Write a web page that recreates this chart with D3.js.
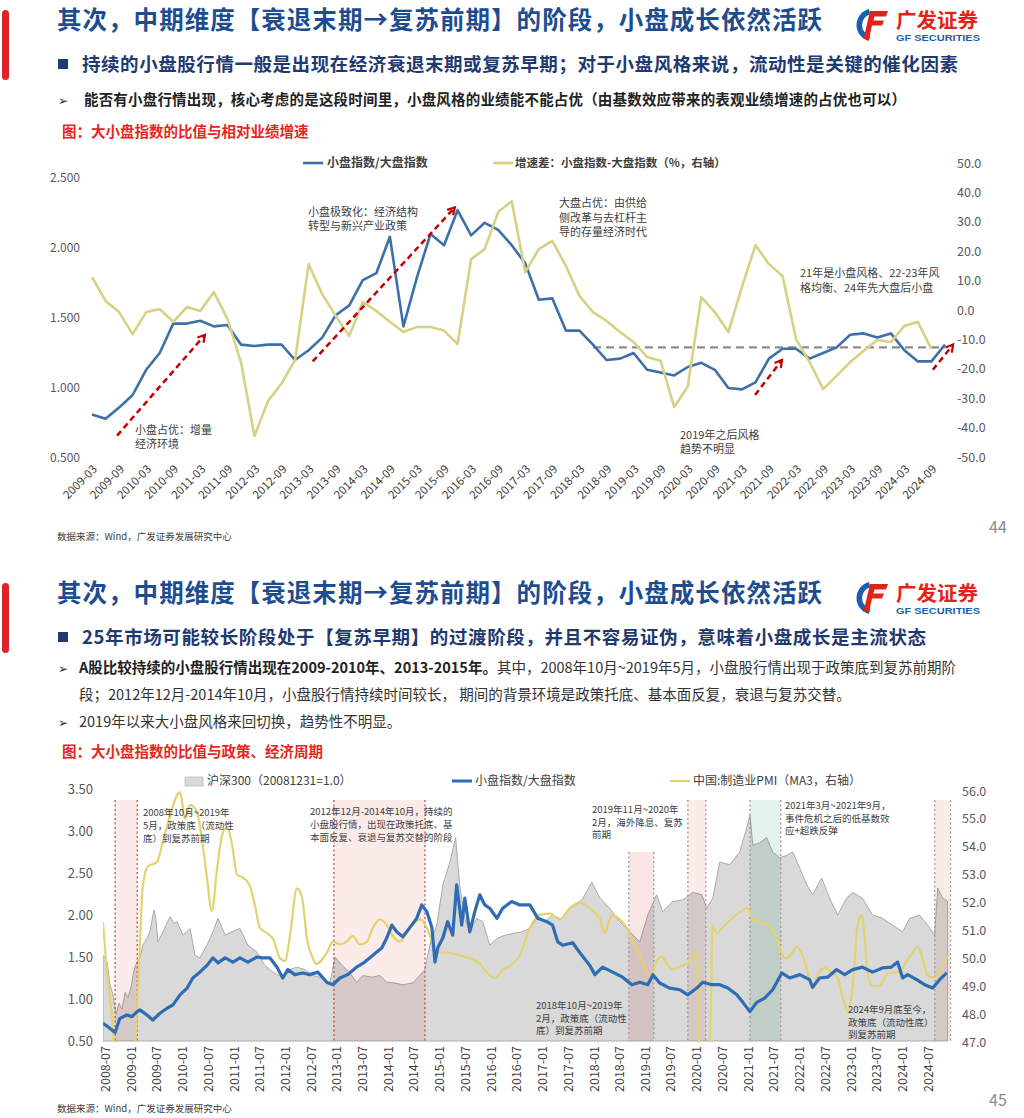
<!DOCTYPE html>
<html>
<head>
<meta charset="utf-8">
<title>大小盘指数</title>
<script src="https://cdn.jsdelivr.net/npm/d3@7/dist/d3.min.js"></script>
<style>
  body { margin: 0; background: #fff; }
  #chart svg { display: block; }
</style>
</head>
<body>
<div id="chart"></div>
<script>
// ---- slide 44: quarterly ratio and growth spread ----
var quarters = ["2009-03","2009-06","2009-09","2009-12","2010-03","2010-06","2010-09","2010-12",
  "2011-03","2011-06","2011-09","2011-12","2012-03","2012-06","2012-09","2012-12",
  "2013-03","2013-06","2013-09","2013-12","2014-03","2014-06","2014-09","2014-12",
  "2015-03","2015-06","2015-09","2015-12","2016-03","2016-06","2016-09","2016-12",
  "2017-03","2017-06","2017-09","2017-12","2018-03","2018-06","2018-09","2018-12",
  "2019-03","2019-06","2019-09","2019-12","2020-03","2020-06","2020-09","2020-12",
  "2021-03","2021-06","2021-09","2021-12","2022-03","2022-06","2022-09","2022-12",
  "2023-03","2023-06","2023-09","2023-12","2024-03","2024-06","2024-09","2024-12"];

var ratioQ = [0.81,0.78,0.86,0.95,1.13,1.25,1.46,1.46,1.48,1.44,
  1.45,1.31,1.30,1.31,1.31,1.20,1.27,1.36,1.52,1.59,
  1.77,1.82,2.08,1.44,1.79,2.10,2.02,2.27,2.09,2.18,
  2.13,2.02,1.89,1.63,1.64,1.41,1.41,1.31,1.20,1.21,
  1.25,1.13,1.11,1.09,1.15,1.18,1.13,1.00,0.99,1.04,
  1.21,1.28,1.28,1.21,1.25,1.29,1.38,1.39,1.36,1.39,
  1.27,1.19,1.19,1.31];

var spreadQ = [11.2,3.1,-0.7,-8.2,-0.7,0.3,-4.0,1.0,-0.3,6.1,
  -3.0,-17.7,-42.9,-31.0,-25.0,-17.0,15.6,5.4,-2.0,-8.8,
  2.7,-0.3,-4.0,-7.5,-5.8,-5.8,-7.0,-11.6,17.3,20.7,
  33.3,37.0,12.9,20.7,23.5,15.0,4.8,-0.7,-3.7,-7.5,
  -10.9,-16.0,-17.3,-33.0,-26.0,4.4,-0.7,-7.5,7.8,22.0,
  15.6,11.6,-9.9,-17.7,-26.9,-22.4,-17.7,-13.9,-10.2,-10.9,
  -5.4,-4.1,-13.3];

var refLevel = 1.29;
var refFrom = "2018-06";
// [quarter index from, ratio from, quarter index to, ratio to]
var topArrows = [[1.85, 0.66, 8.35, 1.38], [16.3, 1.19, 26.8, 2.29], [48.97, 0.95, 50.96, 1.20], [62.1, 1.13, 63.6, 1.31]];

// ---- slide 45: long series ----
var hsDates = ["2008-06-17","2008-07-15","2008-08-06","2008-08-27","2008-09-18","2008-10-09","2008-10-30","2008-11-21","2008-12-12",
  "2009-01-03","2009-01-24","2009-02-15","2009-03-06","2009-03-27","2009-04-25","2009-05-16","2009-06-14","2009-06-28","2009-07-12",
  "2009-08-17","2009-09-08","2009-10-06","2009-11-04","2009-11-25","2010-01-07","2010-02-26","2010-04-01","2010-05-06","2010-06-25",
  "2010-08-07","2010-09-12","2010-11-01","2010-12-20","2011-02-15","2011-04-12","2011-06-15","2011-08-10","2011-10-07","2011-12-10",
  "2012-02-05","2012-03-25","2012-05-21","2012-07-17","2012-09-20","2012-11-15","2012-12-21","2013-02-09","2013-04-05","2013-05-24",
  "2013-07-06","2013-09-09","2013-11-05","2013-12-24","2014-02-20","2014-04-16","2014-06-26","2014-08-15","2014-09-20","2014-10-25",
  "2014-12-14","2015-01-26","2015-03-15","2015-04-27","2015-05-25","2015-07-01","2015-08-05","2015-09-24","2015-11-06","2015-12-25",
  "2016-02-14","2016-04-10","2016-06-06","2016-08-09","2016-10-05","2016-11-24","2017-01-19","2017-03-15","2017-05-18","2017-07-15",
  "2017-10-09","2017-12-19","2018-02-15","2018-04-25","2018-07-05","2018-09-15","2018-11-25","2019-01-21","2019-03-24","2019-05-06",
  "2019-07-16","2019-09-26","2019-12-06","2020-02-09","2020-03-14","2020-04-26","2020-06-15","2020-08-25","2020-11-04","2020-12-24",
  "2021-01-15","2021-02-05","2021-03-25","2021-05-14","2021-06-26","2021-08-14","2021-10-03","2021-11-15","2022-01-04","2022-02-23",
  "2022-04-05","2022-06-08","2022-08-04","2022-09-30","2022-12-03","2023-01-15","2023-03-25","2023-06-05","2023-08-15","2023-10-25",
  "2024-01-05","2024-02-24","2024-05-04","2024-06-30","2024-08-19","2024-09-10","2024-10-15","2024-11-20"];
var hsVals = [1.52,1.45,1.17,1.05,0.82,0.95,0.88,1.08,1.02,
  1.15,1.35,1.45,1.48,1.64,1.72,1.80,2.06,1.95,1.68,
  1.80,1.88,1.98,1.90,1.92,1.76,1.84,1.52,1.49,1.64,
  1.80,1.96,1.76,1.80,1.84,1.64,1.56,1.40,1.32,1.26,
  1.35,1.38,1.35,1.28,1.25,1.19,1.50,1.40,1.31,1.20,
  1.28,1.26,1.28,1.20,1.19,1.17,1.19,1.28,1.35,1.64,
  1.88,2.36,2.62,2.92,2.36,1.96,1.80,1.96,1.92,1.64,
  1.72,1.76,1.78,1.80,1.84,1.96,1.92,2.00,1.95,2.08,
  2.18,2.39,2.20,2.08,1.92,1.80,1.68,2.00,2.24,2.04,
  2.16,2.18,2.27,2.24,2.08,2.20,2.63,2.60,2.75,3.04,
  3.19,2.83,2.86,2.92,2.75,2.68,2.71,2.75,2.56,2.36,
  2.24,2.44,2.20,2.00,2.20,2.27,2.20,2.00,1.96,1.88,
  1.80,1.96,2.00,1.88,1.76,2.32,2.20,2.16];

var ratioDates = ["2008-06-17","2008-08-06","2008-09-11","2008-10-15","2008-12-04","2009-01-09","2009-02-15","2009-03-06","2009-04-25",
  "2009-06-06","2009-07-26","2009-09-15","2009-10-27","2009-12-16","2010-02-04","2010-03-17","2010-05-06","2010-06-25","2010-08-07",
  "2010-09-12","2010-11-01","2010-12-27","2011-02-15","2011-04-12","2011-06-15","2011-07-27","2011-09-15","2011-11-04","2011-12-16",
  "2012-01-21","2012-03-10","2012-05-06","2012-06-25","2012-08-21","2012-10-24","2012-12-06","2013-01-25","2013-03-21","2013-05-24",
  "2013-07-20","2013-09-16","2013-11-19","2013-12-24","2014-01-29","2014-03-04","2014-04-16","2014-06-05","2014-07-24","2014-08-29",
  "2014-10-04","2014-11-09","2014-12-01","2014-12-21","2015-01-26","2015-03-01","2015-04-06","2015-05-04","2015-06-09","2015-07-01",
  "2015-08-05","2015-09-10","2015-10-15","2015-11-20","2015-12-25","2016-02-14","2016-03-26","2016-05-29","2016-07-25","2016-10-05",
  "2016-12-01","2017-02-03","2017-03-15","2017-04-21","2017-05-26","2017-08-05","2017-10-09","2017-12-05","2018-01-10","2018-03-06",
  "2018-05-16","2018-07-26","2018-09-29","2018-11-25","2019-01-21","2019-02-26","2019-04-15","2019-06-25","2019-09-05","2019-11-01",
  "2020-01-04","2020-02-16","2020-04-19","2020-06-15","2020-08-11","2020-10-14","2020-11-26","2021-01-15","2021-03-04","2021-04-30",
  "2021-06-26","2021-08-29","2021-10-25","2022-01-04","2022-03-15","2022-04-05","2022-05-25","2022-07-21","2022-09-23","2022-11-19",
  "2023-01-15","2023-03-25","2023-06-05","2023-08-15","2023-10-18","2023-11-30","2024-01-05","2024-02-10","2024-04-13","2024-06-09",
  "2024-08-05","2024-09-24","2024-11-13"];
var ratioVals = [0.71,0.65,0.60,0.77,0.81,0.79,0.85,0.87,0.81,
  0.75,0.83,0.89,0.93,1.05,1.13,1.25,1.32,1.40,1.49,
  1.43,1.49,1.44,1.49,1.44,1.50,1.49,1.49,1.38,1.25,
  1.35,1.29,1.31,1.29,1.32,1.20,1.17,1.25,1.29,1.38,
  1.44,1.52,1.61,1.73,1.88,1.80,1.74,1.85,1.96,2.12,
  2.04,1.85,1.44,1.61,1.73,1.92,1.76,2.36,1.88,2.20,
  1.80,2.04,2.24,2.12,2.08,1.96,2.08,2.16,2.12,2.12,
  1.96,1.92,1.88,1.68,1.64,1.67,1.52,1.40,1.29,1.38,
  1.32,1.26,1.17,1.20,1.17,1.29,1.19,1.13,1.11,1.05,
  1.13,1.20,1.17,1.17,1.13,1.05,0.96,0.85,0.96,1.01,
  1.11,1.31,1.25,1.29,1.23,1.14,1.25,1.26,1.35,1.29,
  1.35,1.38,1.32,1.37,1.38,1.44,1.25,1.29,1.23,1.17,
  1.13,1.23,1.31];

var pmiDates = ["2008-06-17","2008-07-15","2008-08-19","2008-09-24","2008-10-30","2008-12-12","2009-01-17","2009-02-08","2009-02-22",
  "2009-03-27","2009-05-02","2009-07-05","2009-08-17","2009-10-06","2009-11-25","2009-12-16","2010-01-21","2010-02-26","2010-04-15",
  "2010-05-20","2010-06-25","2010-07-30","2010-09-05","2010-10-10","2010-11-15","2010-12-20","2011-01-25","2011-03-07","2011-04-26",
  "2011-06-01","2011-07-06","2011-08-25","2011-10-07","2011-11-26","2012-01-01","2012-02-05","2012-03-25","2012-04-30","2012-06-05",
  "2012-07-17","2012-08-09","2012-10-24","2012-12-06","2013-01-25","2013-03-14","2013-04-26","2013-06-15","2013-08-04","2013-09-16",
  "2013-11-05","2013-12-24","2014-02-06","2014-03-25","2014-05-14","2014-06-26","2014-08-15","2014-10-04","2014-11-16","2015-01-05",
  "2015-03-15","2015-05-25","2015-08-05","2015-10-15","2015-12-04","2016-01-30","2016-03-26","2016-06-06","2016-07-25","2016-10-05",
  "2016-12-15","2017-02-25","2017-05-05","2017-07-15","2017-09-25","2017-12-05","2018-02-15","2018-03-20","2018-05-09","2018-07-05",
  "2018-08-24","2018-10-06","2018-11-25","2019-01-14","2019-02-19","2019-03-24","2019-04-29","2019-06-04","2019-07-16","2019-09-05",
  "2019-10-25","2019-12-06","2020-01-04","2020-01-25","2020-02-22","2020-03-21","2020-04-11","2020-04-26","2020-05-23","2020-07-05",
  "2020-08-15","2020-11-18","2020-12-31","2021-02-05","2021-03-25","2021-05-20","2021-07-09","2021-08-14","2021-09-19","2021-10-25",
  "2021-12-13","2022-01-25","2022-03-01","2022-04-05","2022-05-10","2022-06-29","2022-08-18","2022-09-30","2022-11-05","2022-12-10",
  "2023-01-15","2023-02-20","2023-03-18","2023-04-09","2023-04-30","2023-06-05","2023-07-24","2023-09-12","2023-10-25","2023-12-13",
  "2024-02-02","2024-03-15","2024-04-20","2024-05-25","2024-06-30","2024-08-19","2024-10-08","2024-11-20"];
var pmiVals = [51.3,49.5,47.9,45.0,42.0,42.5,45.0,47.5,49.0,
  52.6,53.3,53.45,54.2,55.1,55.85,55.96,55.0,55.5,55.25,
  54.3,52.9,51.7,53.2,54.4,54.7,54.1,53.0,52.9,52.6,
  51.9,51.1,50.9,50.7,50.0,49.9,50.8,52.5,52.2,50.7,
  50.0,49.8,50.2,50.6,50.5,50.6,50.8,50.5,50.6,51.1,
  51.4,51.2,50.8,50.6,50.9,51.2,51.4,51.1,50.5,50.2,
  50.2,50.1,50.0,49.8,49.5,49.3,49.6,49.8,50.1,51.1,
  51.55,51.6,51.4,51.8,52.0,51.8,51.4,50.9,51.55,51.4,
  51.1,50.6,50.1,49.5,49.4,49.9,50.05,49.8,49.6,49.7,
  49.8,50.1,50.2,46.0,44.5,45.0,48.0,51.2,50.9,51.1,
  51.3,51.7,51.8,51.4,51.3,51.2,50.9,50.4,50.0,50.1,
  50.4,50.1,49.5,48.9,49.4,49.65,49.5,49.3,48.6,48.1,
  49.0,51.2,51.55,50.8,49.5,49.0,49.0,49.4,49.5,49.5,
  49.9,50.2,50.4,50.0,49.4,49.3,49.7,50.1];

// shaded periods
var bandFrom = ["2008-09-11","2012-12-13","2018-09-08","2019-11-01","2021-01-15","2024-08-20"];
var bandTo   = ["2009-02-15","2014-09-21","2019-03-04","2020-03-07","2021-08-22","2024-12-10"];
var bandTop  = [3.37, 3.37, 2.75, 3.37, 3.37, 3.37];
var bandFill = ["#fbecea","#fbecea","#f9e6e4","#fbecea","#e3f2ea","#fbecea"];
var bandEdge = ["#c0504d","#c0504d","#9c9c9c","#9c9c9c","#9c9c9c","#9c9c9c"];

var font = '"Noto Sans CJK SC", "Noto Sans", sans-serif';
var blueT = "#3d6fa8", yellowT = "#d8d084";
var blueB = "#2e6db4", yellowB = "#e3d26e";

var svg = d3.select("#chart").append("svg")
  .attr("width", 1024)
  .attr("height", 1118)
  .attr("font-family", font);

var parseDate = d3.timeParse("%Y-%m-%d");
var defs = svg.append("defs");

function txt(g, s, x, y, size, fill, weight) {
  return g.append("text").text(s)
    .attr("x", x).attr("y", y)
    .attr("font-size", size)
    .attr("fill", fill)
    .attr("font-weight", weight || "normal");
}

function logo(x, y) {
  var g = svg.append("g").attr("transform", "translate(" + x + "," + y + ")");
  g.append("path")
    .attr("transform", "translate(16,17)")
    .attr("d", d3.arc().innerRadius(11).outerRadius(16.5).startAngle(Math.PI * 1.08).endAngle(Math.PI * 1.92)())
    .attr("fill", "#1c5fae");
  g.append("path")
    .attr("d", "M13,3 L31,3 L29,8.5 L17.5,8.5 L16.5,12.5 L27,12.5 L25,17.5 L15,17.5 L12,31 L6.5,31 Z")
    .attr("fill", "#e2231a");
  txt(g, "广发证券", 39, 20, 20.5, "#e2231a", "bold");
  txt(g, "GF SECURITIES", 39, 33, 8.5, "#1c5fae", "bold")
    .attr("font-family", "Liberation Sans, Arial, sans-serif")
    .attr("textLength", 84).attr("lengthAdjust", "spacingAndGlyphs");
}

function header(y0, title, bullet, bulletLen) {
  svg.append("rect").attr("x", 2).attr("y", y0 + 10).attr("width", 7).attr("height", 70)
    .attr("rx", 3.5).attr("fill", "#d9252b");
  txt(svg, title, 57, y0 + 29, 24.5, "#1d4d8e", "bold")
    .attr("textLength", 765).attr("lengthAdjust", "spacing");
  logo(857, y0 + 8);
  svg.append("rect").attr("x", 58).attr("y", y0 + 59).attr("width", 10).attr("height", 10).attr("fill", "#1f3a70");
  txt(svg, bullet, 82, y0 + 71, 18.5, "#1f3a70", "bold")
    .attr("textLength", bulletLen).attr("lengthAdjust", "spacing");
}

function arrowBullet(x, y) {
  txt(svg, "➢", x, y, 12, "#333").attr("font-family", "DejaVu Sans");
}

// multi-line note kept in one text element
function note(lines, x, y, size, lh) {
  var t = svg.append("text").attr("x", x).attr("y", y).attr("font-size", size).attr("fill", "#404040");
  lines.forEach(function (s, k) {
    t.append("tspan").attr("x", x).attr("dy", k === 0 ? 0 : lh).text(s);
  });
}

function cleanAxis(g, size) {
  g.attr("font-family", font);
  g.select(".domain").remove();
  g.selectAll("text").attr("font-size", size).attr("fill", "#595959");
}

function minusFix(f) {
  return function (d) { return f(d).replace("−", "-"); };
}

// ================= slide 44 =================
header(0, "其次，中期维度【衰退末期→复苏前期】的阶段，小盘成长依然活跃",
  "持续的小盘股行情一般是出现在经济衰退末期或复苏早期；对于小盘风格来说，流动性是关键的催化因素", 876);
arrowBullet(58, 105);
txt(svg, "能否有小盘行情出现，核心考虑的是这段时间里，小盘风格的业绩能不能占优（由基数效应带来的表观业绩增速的占优也可以）",
  84, 105, 14.5, "#222", "bold").attr("textLength", 822).attr("lengthAdjust", "spacing");
txt(svg, "图：大小盘指数的比值与相对业绩增速", 62, 137, 14.5, "#e8251d", "bold");

var xT = d3.scaleLinear().domain([0, quarters.length - 1]).range([92, 945]);
var yL = d3.scaleLinear().domain([0.5, 2.5]).range([458, 178]);
var yR = d3.scaleLinear().domain([-50, 50]).range([457, 163]);

var gL = svg.append("g").attr("transform", "translate(83,0)")
  .call(d3.axisLeft(yL).tickValues([0.5, 1, 1.5, 2, 2.5]).tickFormat(d3.format(".3f")).tickSize(0).tickPadding(3));
cleanAxis(gL, 12);

var gR = svg.append("g").attr("transform", "translate(954,0)")
  .call(d3.axisRight(yR).tickValues(d3.range(-50, 51, 10)).tickFormat(minusFix(d3.format(".1f"))).tickSize(0).tickPadding(3));
cleanAxis(gR, 12.5);

svg.append("g").selectAll("text")
  .data(quarters.map(function (q, i) { return { q: q, i: i }; }).filter(function (d) { return d.i % 2 === 0; }))
  .join("text")
  .attr("transform", function (d) { return "translate(" + (xT(d.i) + 3) + ",467) rotate(-45)"; })
  .attr("text-anchor", "end")
  .attr("dy", "0.35em")
  .attr("font-size", 11.5)
  .attr("fill", "#404040")
  .text(function (d) { return d.q; });

// reference level
svg.append("line")
  .attr("x1", xT(quarters.indexOf(refFrom)))
  .attr("x2", xT(quarters.length - 1))
  .attr("y1", yL(refLevel)).attr("y2", yL(refLevel))
  .attr("stroke", "#8c8c8c").attr("stroke-width", 2.4).attr("stroke-dasharray", "8,5");

var lineL = d3.line().x(function (d, i) { return xT(i); }).y(function (d) { return yL(d); });
var lineR = d3.line().x(function (d, i) { return xT(i); }).y(function (d) { return yR(d); });

svg.append("path").datum(ratioQ).attr("d", lineL)
  .attr("fill", "none").attr("stroke", blueT).attr("stroke-width", 2.6).attr("stroke-linejoin", "round");
svg.append("path").datum(spreadQ).attr("d", lineR)
  .attr("fill", "none").attr("stroke", yellowT).attr("stroke-width", 2.6).attr("stroke-linejoin", "round");

defs.append("marker")
  .attr("id", "arrowRed")
  .attr("viewBox", "0 0 10 10")
  .attr("refX", 8).attr("refY", 5)
  .attr("markerWidth", 10).attr("markerHeight", 10)
  .attr("markerUnits", "userSpaceOnUse")
  .attr("orient", "auto")
  .append("path").attr("d", "M1,1 L8,5 L1,9")
  .attr("fill", "none").attr("stroke", "#c00000").attr("stroke-width", 2.2);

svg.append("g").selectAll("line")
  .data(topArrows)
  .join("line")
  .attr("x1", function (d) { return xT(d[0]); })
  .attr("y1", function (d) { return yL(d[1]); })
  .attr("x2", function (d) { return xT(d[2]); })
  .attr("y2", function (d) { return yL(d[3]); })
  .attr("stroke", "#c00000").attr("stroke-width", 2.5)
  .attr("stroke-dasharray", "6,4")
  .attr("marker-end", "url(#arrowRed)");

// legend
svg.append("line").attr("x1", 303).attr("x2", 323).attr("y1", 163).attr("y2", 163).attr("stroke", blueT).attr("stroke-width", 2.6);
txt(svg, "小盘指数/大盘指数", 327, 167, 12, "#404040", "bold");
svg.append("line").attr("x1", 493).attr("x2", 513).attr("y1", 163).attr("y2", 163).attr("stroke", yellowT).attr("stroke-width", 2.6);
txt(svg, "增速差：小盘指数-大盘指数（%，右轴）", 515, 167, 11.5, "#404040", "bold");

note(["小盘极致化：经济结构", "转型与新兴产业政策"], 308, 216, 11, 14);
note(["大盘占优：由供给", "侧改革与去杠杆主", "导的存量经济时代"], 559, 207, 11, 14.5);
note(["21年是小盘风格、22-23年风", "格均衡、24年先大盘后小盘"], 800, 277, 11, 14.5);
note(["小盘占优：增量", "经济环境"], 135, 434, 11, 14);
note(["2019年之后风格", "趋势不明显"], 680, 439, 11, 14);

txt(svg, "数据来源：Wind，广发证券发展研究中心", 57, 540, 9.5, "#404040");
txt(svg, "44", 989, 533, 16, "#8c8c8c");

// ================= slide 45 =================
header(573, "其次，中期维度【衰退末期→复苏前期】的阶段，小盘成长依然活跃",
  "25年市场可能较长阶段处于【复苏早期】的过渡阶段，并且不容易证伪，意味着小盘成长是主流状态", 844);
arrowBullet(58, 673);
var p1 = svg.append("text").attr("x", 79).attr("y", 673).attr("font-size", 14.5).attr("fill", "#333");
p1.append("tspan").attr("font-weight", "bold").attr("fill", "#222").text("A股比较持续的小盘股行情出现在2009-2010年、2013-2015年。");
p1.append("tspan").text("其中，2008年10月~2019年5月，小盘股行情出现于政策底到复苏前期阶");
txt(svg, "段；2012年12月-2014年10月，小盘股行情持续时间较长， 期间的背景环境是政策托底、基本面反复，衰退与复苏交替。",
  79, 700, 14.5, "#333");
arrowBullet(58, 727);
txt(svg, "2019年以来大小盘风格来回切换，趋势性不明显。", 79, 727, 14.5, "#333");
txt(svg, "图：大小盘指数的比值与政策、经济周期", 62, 757, 14.5, "#e8251d", "bold");

var xB = d3.scaleTime().domain([parseDate("2008-06-17"), parseDate("2024-11-22")]).range([103, 948]);
var yB = d3.scaleLinear().domain([0.5, 3.5]).range([1041, 789]);
var yP = d3.scaleLinear().domain([47, 56]).range([1042, 791]);

defs.append("clipPath").attr("id", "plotB")
  .append("rect").attr("x", 103).attr("y", 780).attr("width", 851).attr("height", 262);

var hs = hsDates.map(function (d, i) { return { date: parseDate(d), v: hsVals[i] }; });
var ratio = ratioDates.map(function (d, i) { return { date: parseDate(d), v: ratioVals[i] }; });
var pmi = pmiDates.map(function (d, i) { return { date: parseDate(d), v: pmiVals[i] }; });

var plot = svg.append("g").attr("clip-path", "url(#plotB)");

plot.append("path").datum(hs)
  .attr("d", d3.area().x(function (d) { return xB(d.date); }).y0(yB(0.5)).y1(function (d) { return yB(d.v); }))
  .attr("fill", "#d9d9d9").attr("stroke", "#a3a3a3").attr("stroke-width", 0.9);

var bands = bandFrom.map(function (f, i) {
  return { x0: xB(parseDate(f)), x1: xB(parseDate(bandTo[i])), top: bandTop[i], fill: bandFill[i], edge: bandEdge[i] };
});

plot.append("g").selectAll("rect")
  .data(bands)
  .join("rect")
  .attr("x", function (d) { return d.x0; })
  .attr("width", function (d) { return d.x1 - d.x0; })
  .attr("y", function (d) { return yB(d.top); })
  .attr("height", function (d) { return yB(0.5) - yB(d.top); })
  .attr("fill", function (d) { return d.fill; })
  .style("mix-blend-mode", "multiply");

bands.forEach(function (b) {
  [b.x0, b.x1].forEach(function (x) {
    plot.append("line")
      .attr("x1", x).attr("x2", x)
      .attr("y1", yB(b.top)).attr("y2", yB(0.5))
      .attr("stroke", b.edge).attr("stroke-width", 1.3).attr("stroke-dasharray", "2,2.5");
  });
});

plot.append("path").datum(pmi)
  .attr("d", d3.line().x(function (d) { return xB(d.date); }).y(function (d) { return yP(d.v); }).curve(d3.curveMonotoneX))
  .attr("fill", "none").attr("stroke", yellowB).attr("stroke-width", 2.2);

plot.append("path").datum(ratio)
  .attr("d", d3.line().x(function (d) { return xB(d.date); }).y(function (d) { return yB(d.v); }))
  .attr("fill", "none").attr("stroke", blueB).attr("stroke-width", 3.2).attr("stroke-linejoin", "round");

var gBL = svg.append("g").attr("transform", "translate(96,0)")
  .call(d3.axisLeft(yB).tickValues([0.5, 1, 1.5, 2, 2.5, 3, 3.5]).tickFormat(d3.format(".2f")).tickSize(0).tickPadding(3));
cleanAxis(gBL, 13);

var gBR = svg.append("g").attr("transform", "translate(959,0)")
  .call(d3.axisRight(yP).tickValues(d3.range(47, 57, 1)).tickFormat(d3.format(".1f")).tickSize(0).tickPadding(3));
cleanAxis(gBR, 12.5);

var gBX = svg.append("g").attr("transform", "translate(0,1046)")
  .call(d3.axisBottom(xB).ticks(d3.timeMonth.every(6)).tickFormat(d3.timeFormat("%Y-%m")).tickSize(0).tickPadding(0));
cleanAxis(gBX, 12.5);
gBX.selectAll("text")
  .attr("transform", "rotate(-90)")
  .attr("text-anchor", "end")
  .attr("y", 0)
  .attr("dy", "0.35em")
  .attr("fill", "#404040");

// legend
svg.append("rect").attr("x", 185).attr("y", 777).attr("width", 18).attr("height", 9)
  .attr("fill", "#d9d9d9").attr("stroke", "#bdbdbd").attr("stroke-width", 0.8);
txt(svg, "沪深300（20081231=1.0）", 207, 785, 12, "#404040");
svg.append("line").attr("x1", 452).attr("x2", 472).attr("y1", 781).attr("y2", 781).attr("stroke", blueB).attr("stroke-width", 3);
txt(svg, "小盘指数/大盘指数", 475, 785, 12, "#404040");
svg.append("line").attr("x1", 670).attr("x2", 690).attr("y1", 781).attr("y2", 781).attr("stroke", yellowB).attr("stroke-width", 2.2);
txt(svg, "中国:制造业PMI（MA3，右轴）", 693, 785, 12, "#404040");

note(["2008年10月~2019年", "5月，政策底（流动性", "底）到复苏前期"], 143, 816, 9.5, 12.8);
note(["2012年12月-2014年10月，持续的", "小盘股行情，出现在政策托底、基", "本面反复、衰退与复苏交替的阶段"], 310, 815, 9.5, 12.8);
note(["2019年11月~2020年", "2月，海外降息、复苏", "前期"], 592, 813, 9.5, 12.6);
note(["2021年3月~2021年9月，", "事件危机之后的低基数效", "应+超跌反弹"], 785, 809, 9.5, 12.6);
note(["2018年10月~2019年", "2月，政策底（流动性", "底）到复苏前期"], 536, 1009, 9.5, 12.6);
note(["2024年9月底至今，", "政策底（流动性底）", "到复苏前期"], 848, 1013, 9.5, 12.6);

txt(svg, "数据来源：Wind，广发证券发展研究中心", 57, 1112, 9.5, "#404040");
txt(svg, "45", 989, 1106, 16, "#8c8c8c");
</script>
</body>
</html>
